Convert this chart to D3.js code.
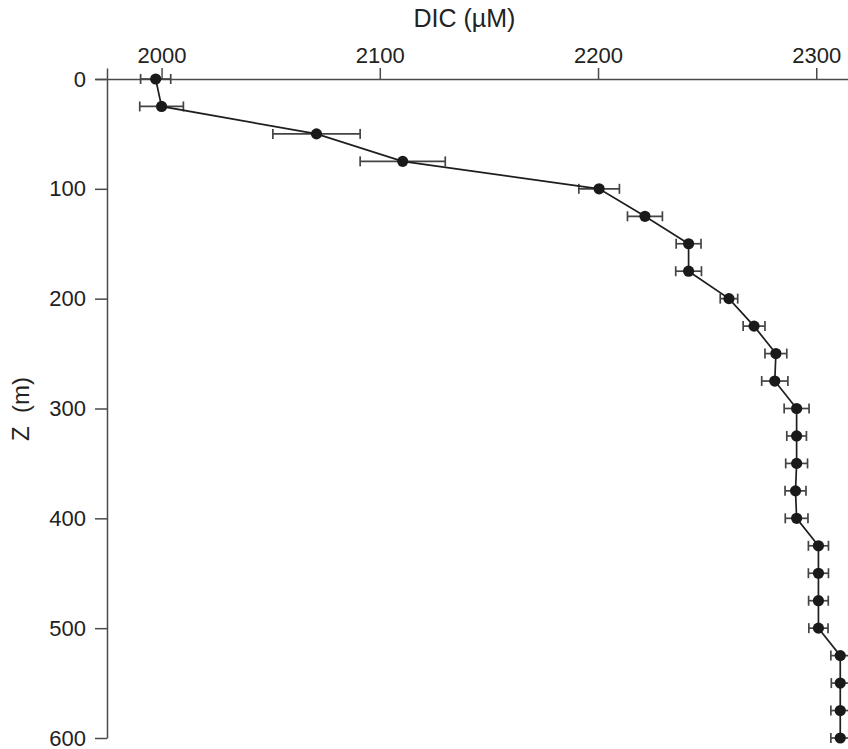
<!DOCTYPE html>
<html><head><meta charset="utf-8">
<script src="https://cdn.jsdelivr.net/npm/d3@7"></script>
<style>
body{margin:0;background:#fff;}
svg{display:block;font-family:"Liberation Sans",Arial,Helvetica,sans-serif;}
</style></head>
<body><svg id="c" width="848" height="749"></svg>
<script>
const depths = [0,25,50,75,100,125,150,175,200,225,250,275,300,325,350,375,400,425,450,475,500,525,550,575,600];
const dic = [1997.3,2000,2071,2110.5,2200.5,2221.5,2241.5,2241.5,2260,2271.5,2281.5,2281,2291,2291,2291,2290.5,2291,2301,2301,2301,2301,2311,2311,2311,2311];
const err = [6.9,10,20,19.5,9.3,8,5.7,5.9,4,5,5,6,5.7,4.5,5,4.8,5.2,4.6,4.6,4.5,4.4,4.3,4.1,4.3,4.3];
const xTicks = [2000,2100,2200,2300];
const yTicks = [0,100,200,300,400,500,600];
const data = depths.map((d,i)=>({z:d, v:dic[i], e:err[i]}));

const svg = d3.select("#c");
const x = d3.scaleLinear().domain([1969.5, 2320]).range([95, 859.9]);
const y = d3.scaleLinear().domain([-10, 600]).range([68, 738]);
const axisColor = "#4a4a4a", textColor = "#222";

const gx = svg.append("g").attr("transform",`translate(0,${y(0)})`)
  .call(d3.axisTop(x).tickValues(xTicks).tickFormat(d3.format("d")).tickSize(11).tickSizeOuter(0).tickPadding(5));
const gy = svg.append("g").attr("transform",`translate(${x(1975)},0)`)
  .call(d3.axisLeft(y).tickValues(yTicks).tickSize(12).tickSizeOuter(0).tickPadding(9));
[gx,gy].forEach(g=>{
  g.select(".domain").attr("stroke",axisColor).attr("stroke-width",1.5);
  g.selectAll(".tick line").attr("stroke",axisColor).attr("stroke-width",1.5);
  g.selectAll(".tick text").attr("fill",textColor).attr("font-size",22).attr("font-family","Liberation Sans, Arial, sans-serif");
});

svg.append("text").attr("x",464.5).attr("y",27).attr("text-anchor","middle")
  .attr("font-size",25).attr("fill",textColor).text("DIC (µM)");
svg.append("text").attr("transform",`translate(29,409) rotate(-90)`).attr("text-anchor","middle")
  .attr("font-size",24).attr("fill",textColor).style("white-space","pre").text("Z  (m)");

// error bars
const eb = svg.append("g").attr("stroke","#444").attr("stroke-width",1.7).attr("fill","none");
const g = eb.selectAll("g").data(data).join("g");
g.append("line").attr("x1",d=>x(d.v-d.e)).attr("x2",d=>x(d.v+d.e)).attr("y1",d=>y(d.z)).attr("y2",d=>y(d.z));
g.append("line").attr("x1",d=>x(d.v-d.e)).attr("x2",d=>x(d.v-d.e)).attr("y1",d=>y(d.z)-5).attr("y2",d=>y(d.z)+5);
g.append("line").attr("x1",d=>x(d.v+d.e)).attr("x2",d=>x(d.v+d.e)).attr("y1",d=>y(d.z)-5).attr("y2",d=>y(d.z)+5);

svg.append("path").datum(data).attr("fill","none").attr("stroke","#1e1e1e").attr("stroke-width",1.7)
  .attr("d",d3.line().x(d=>x(d.v)).y(d=>y(d.z)));

svg.append("g").selectAll("circle").data(data).join("circle")
  .attr("cx",d=>x(d.v)).attr("cy",d=>y(d.z)).attr("r",5.6).attr("fill","#1a1a1a");
</script></body></html>
